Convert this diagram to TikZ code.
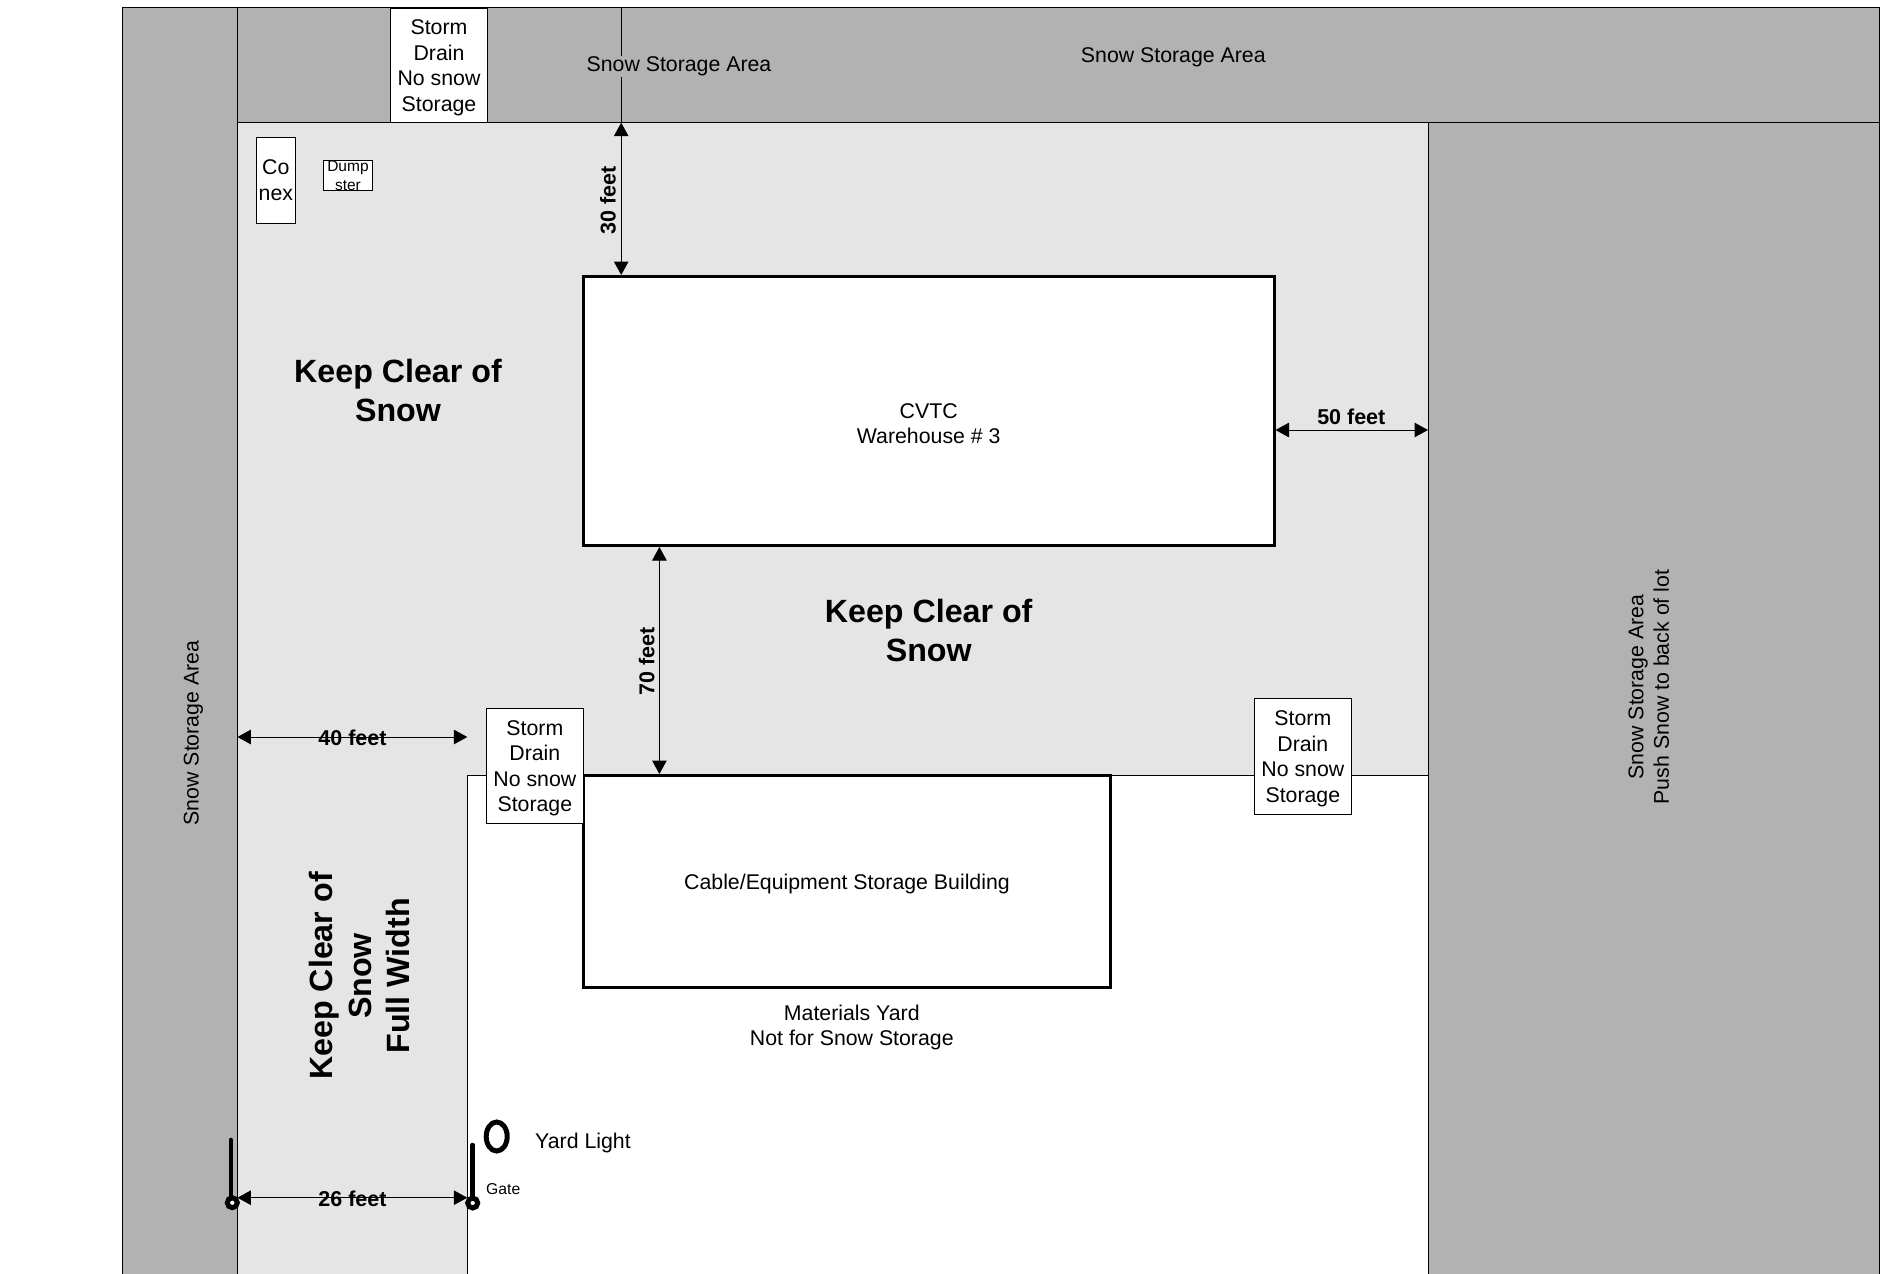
\documentclass[tikz,border=0pt]{standalone}
\usepackage{fontspec}
\setmainfont{Liberation Sans}
\usetikzlibrary{arrows.meta,shapes.geometric}
\definecolor{snowgray}{HTML}{B2B2B2}
\definecolor{cleargray}{HTML}{E5E5E5}
\tikzset{
  x=1pt,y=-1pt,
  edge/.style={draw=black,line width=1pt},
  body/.style={font=\fontsize{21.3}{25.6}\selectfont,align=center,inner sep=0pt},
  boxed/.style={body,draw=black,line width=1pt,fill=white,outer sep=0pt},
  building/.style={boxed,line width=3pt},
  keep/.style={font=\fontsize{32.2}{38.6}\selectfont\bfseries,align=center,inner sep=0pt},
  dimlabel/.style={font=\fontsize{21.5}{25}\selectfont\bfseries,inner sep=0pt},
  dim/.style={line width=1pt,{Triangle[length=13.5pt,width=14.5pt]}-{Triangle[length=13.5pt,width=14.5pt]}},
  gatepost/.style={line width=4.6pt,line cap=round},
  hinge/.style={circle,draw=black,line width=5pt,fill=white,minimum size=10pt,inner sep=0pt},
}
\begin{document}
\begin{tikzpicture}
\useasboundingbox (0,0) rectangle (1885,1274);
\fill[white] (0,0) rectangle (1885,1274);
% areas
\path[fill=snowgray,edge] (122.2,1275) -- (122.2,7.5) -- (1879,7.5) -- (1879,1275) -- (1428,1275) -- (1428,122.7) -- (237.4,122.7) -- (237.4,1275) -- cycle;
\path[fill=cleargray] (237.4,1275) -- (237.4,122.7) -- (1428,122.7) -- (1428,775.5) -- (467.7,775.5) -- (467.7,1275) -- cycle;
\path[fill=white] (467.7,1275) -- (467.7,775.5) -- (1428,775.5) -- (1428,1275) -- cycle;
\draw[edge] (237.4,7.5) -- (237.4,1275);
\draw[edge] (237.4,122.7) -- (1879,122.7);
\draw[edge] (1428,122.7) -- (1428,1275);
\draw[edge] (467.7,1275) -- (467.7,775.5) -- (1428,775.5);
% named anchors for connectors
\coordinate (topedge) at (621.2,7.5);
\coordinate (bandlow) at (621.2,122.7);
\coordinate (whtop) at (621.2,275);
\coordinate (whright) at (1275.5,430);
\coordinate (eastedge) at (1428,430);
\coordinate (whbottom) at (659.4,547);
\coordinate (cabletop) at (659.4,774);
\coordinate (westA) at (237.4,737);
\coordinate (eastA) at (467.3,737);
\coordinate (westB) at (237.4,1197.7);
\coordinate (eastB) at (467.3,1197.7);
\coordinate (gateLtop) at (231,1140);
\coordinate (gateRtop) at (472.7,1145);
% connector above band
\draw[edge] (topedge) -- (bandlow);
% texts in the bands
\node[body,fill=snowgray,inner ysep=1pt] (bandA) at (679,66.5) {Snow Storage Area};
\node[body] (bandB) at (1173.3,57.3) {Snow Storage Area};
\node[body,rotate=90] (bandC) at (193.4,733) {Snow Storage Area};
\node[body,rotate=90] (bandD) at (1648.7,687) {Snow Storage Area\\Push Snow to back of lot};
% buildings
\node[building,minimum width=691pt,minimum height=269pt] (warehouse) at (928.5,410.5) {};
\node[body] (warehouselabel) at (928.7,423.8) {CVTC\\Warehouse \# 3};
\node[building,minimum width=527.8pt,minimum height=211.5pt] (cable) at (847,881.25) {};
\node[body] (cablelabel) at (847,883.6) {Cable/Equipment Storage Building};
% small boxes
\node[boxed,minimum width=96.5pt,minimum height=114.7pt] (drainA) at (439,65.35) {};
\node[body] (drainAlabel) at (439,67.8) {Storm\\Drain\\No snow\\Storage};
\node[boxed,minimum width=96.3pt,minimum height=115pt] (drainB) at (534.85,765.8) {};
\node[body] (drainBlabel) at (534.85,768.2) {Storm\\Drain\\No snow\\Storage};
\node[boxed,minimum width=96.3pt,minimum height=115.3pt] (drainC) at (1302.85,756.35) {};
\node[body] (drainClabel) at (1302.85,758.8) {Storm\\Drain\\No snow\\Storage};
\node[boxed,minimum width=38.7pt,minimum height=86.3pt] (conex) at (275.85,180.15) {Co\\nex};
\node[boxed,font=\fontsize{15.5}{18.5}\selectfont,minimum width=48.1pt,minimum height=29pt] (dumpster) at (347.95,175.5) {Dump\\ster};
% keep clear labels
\node[keep] (keepA) at (398,390.7) {Keep Clear of\\Snow};
\node[keep] (keepB) at (928.7,630.5) {Keep Clear of\\Snow};
\node[keep,rotate=90] (keepC) at (359.5,976) {Keep Clear of\\Snow\\Full Width};
% other labels
\node[body] (yard) at (851.8,1027.4) {Materials Yard\\Not for Snow Storage};
\node[body,anchor=west] (yardlight) at (535,1143) {Yard Light};
\node[body,anchor=west,font=\fontsize{15.7}{18}\selectfont] (gatelabel) at (486,1189) {Gate};
\node[draw=black,line width=5pt,ellipse,minimum width=21pt,minimum height=29pt,inner sep=0pt] (lamp) at (496.7,1136.5) {};
% dimensions
\draw[dim] (bandlow) -- (whtop);
\draw[dim] (whright) -- (eastedge);
\draw[dim] (whbottom) -- (cabletop);
\draw[dim] (westA) -- (eastA);
\draw[dim] (westB) -- (eastB);
\node[dimlabel,rotate=90] (d30) at (608,200) {30 feet};
\node[dimlabel] (d50) at (1351.3,417) {50 feet};
\node[dimlabel,rotate=90] (d70) at (646.8,661.5) {70 feet};
\node[dimlabel] (d40) at (352.5,738) {40 feet};
\node[dimlabel] (d26) at (352.5,1198.7) {26 feet};
% gates
\draw[gatepost] (gateLtop |- 0,1202.7) -- (gateLtop);
\draw[gatepost] (gateRtop |- 0,1203) -- (gateRtop);
\node[hinge] (hingeL) at (232.3,1202.7) {};
\node[hinge] (hingeR) at (472.7,1203) {};
\end{tikzpicture}
\end{document}
